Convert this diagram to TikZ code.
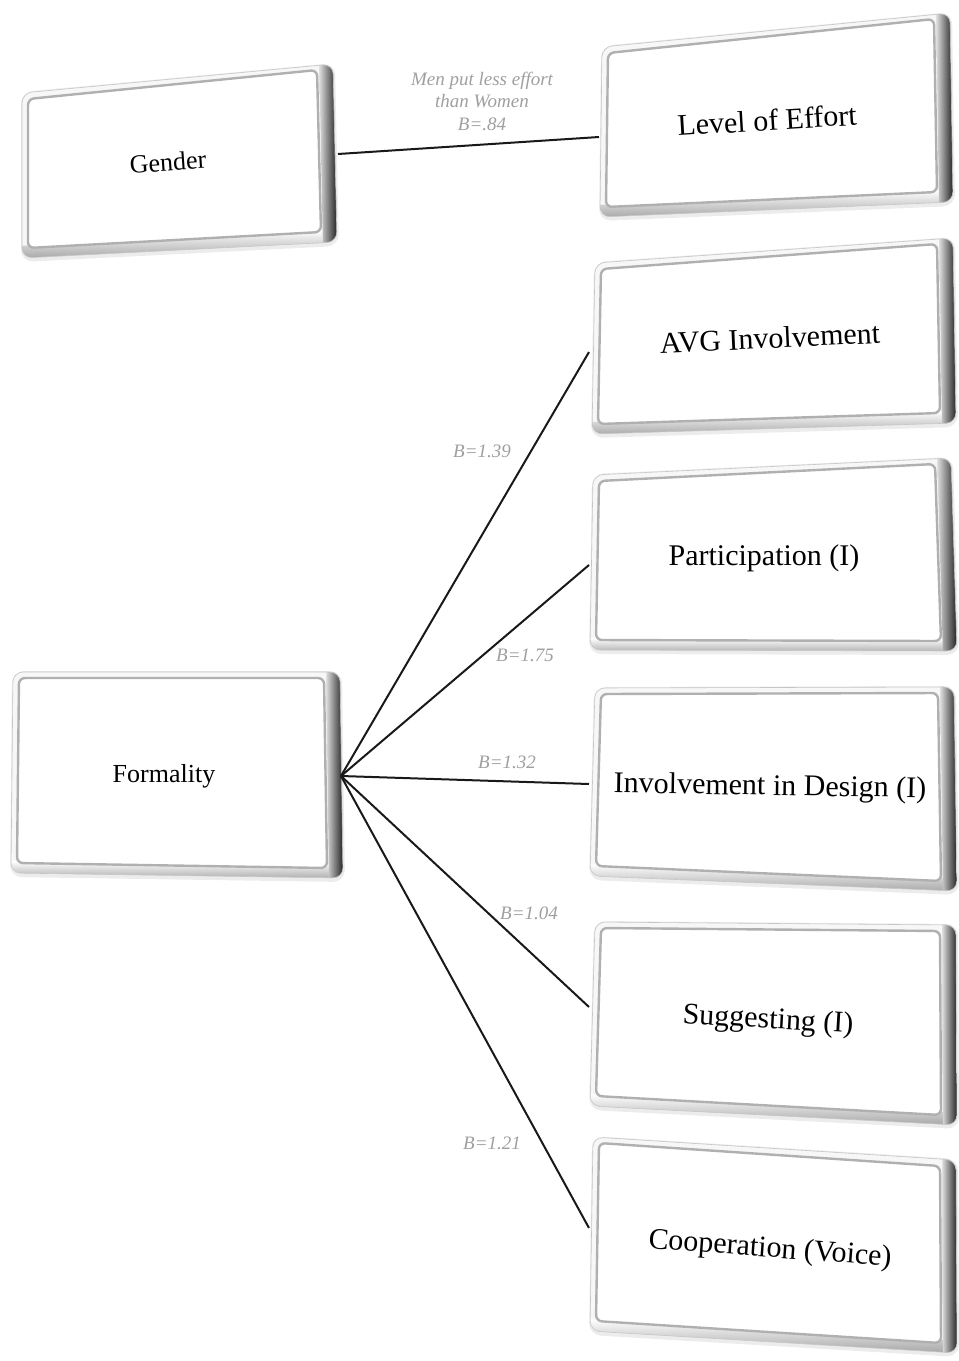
\documentclass[tikz,border=0pt]{standalone}
\usepackage{fontspec}
\setmainfont{Liberation Serif}
\usetikzlibrary{calc}

\tikzset{
  boxtext/.style={font=\fontsize{30}{35}\selectfont, inner sep=0pt},
  lefttext/.style={font=\fontsize{26}{30}\selectfont, inner sep=0pt},
  coef/.style={font=\itshape\fontsize{19}{22.5}\selectfont, text=gray!75, align=center, inner sep=0pt},
  link/.style={line width=2pt, black!90},
}

% Raised bevelled panel spanned by four (slightly skewed) corners:
% #1 name, #2 top left, #3 top right, #4 bottom right, #5 bottom left
\newcommand\bevelbox[5]{%
  \coordinate (#1-tl) at (#2);
  \coordinate (#1-tr) at (#3);
  \coordinate (#1-br) at (#4);
  \coordinate (#1-bl) at (#5);
  % soft drop shadow
  \fill[gray!15, rounded corners=12pt] ($(#1-tl)+(-1,-1)$) -- ($(#1-tr)+(2,-1)$) -- ($(#1-br)+(2,4)$) -- ($(#1-bl)+(-1,4)$) -- cycle;
  \begin{scope}
    \clip[rounded corners=10pt] (#1-tl) -- (#1-tr) -- (#1-br) -- (#1-bl) -- cycle;
    \fill[gray!6] ($(#1-tl)+(-5,-5)$) -- ($(#1-tr)+(5,-5)$) -- ($(#1-br)+(5,5)$) -- ($(#1-bl)+(-5,5)$) -- cycle;
    % lower bevel
    \shade[top color=white, bottom color=gray!80] ($(#1-bl)+(-5,-12)$) -- ($(#1-br)+(5,-12)$) -- ($(#1-br)+(5,5)$) -- ($(#1-bl)+(-5,5)$) -- cycle;
    % right-hand bevel
    \shade[left color=gray!25, right color=black!90] ($(#1-tr)+(-14,-5)$) -- ($(#1-tr)+(1,-5)$) -- ($(#1-br)+(1,5)$) -- ($(#1-br)+(-14,5)$) -- cycle;
  \end{scope}
  \draw[gray!45, line width=.6pt, rounded corners=10pt] (#1-tl) -- (#1-tr) -- (#1-br) -- (#1-bl) -- cycle;
  % face of the panel with its grooved rim
  \filldraw[fill=white, draw=gray!62, line width=2.4pt, rounded corners=6pt] ($(#1-tl)+(6,6)$) -- ($(#1-tr)+(-16,6)$) -- ($(#1-br)+(-16,-10)$) -- ($(#1-bl)+(6,-10)$) -- cycle;
}

\begin{document}
\begin{tikzpicture}[x=1pt, y=-1pt]
\useasboundingbox (0,0) rectangle (959,1361);

% panels
\bevelbox{bgender}{22,93}{333,64}{337,242}{22,258}
\bevelbox{beffort}{602,47}{950,13}{953,202}{600,217}
\bevelbox{bavg}{595,263}{953,238}{956,423}{592,434}
\bevelbox{bpart}{593,475}{951,458}{957,651}{590,650}
\bevelbox{bdesign}{595,688}{954,687}{957,891}{590,876}
\bevelbox{bsugg}{595,922}{956,925}{957,1125}{590,1106}
\bevelbox{bcoop}{593,1137}{956,1160}{957,1353}{590,1331}
\bevelbox{bform}{13,672}{340,672}{343,878}{11,873}

% panel labels
\node[lefttext, rotate=4] (gender) at (168,162) {Gender};
\node[boxtext, rotate=3.5] (effort) at (767,120) {Level of Effort};
\node[boxtext, rotate=2.6] (avg) at (770,338) {AVG Involvement};
\node[boxtext] (part) at (764,558) {Participation (I)};
\node[boxtext, rotate=-1] (design) at (770,788) {Involvement in Design (I)};
\node[boxtext, rotate=-3.3] (sugg) at (768,1021) {Suggesting (I)};
\node[boxtext, rotate=-4.3] (coop) at (770,1250) {Cooperation (Voice)};
\node[lefttext] (form) at (164,776) {Formality};

% attachment points on the panel edges
\coordinate (gender-e) at (338,154);
\coordinate (effort-w) at (599,137);
\coordinate (form-e) at (341,776);
\coordinate (avg-w) at (589,352);
\coordinate (part-w) at (589,565);
\coordinate (design-w) at (589,784);
\coordinate (sugg-w) at (589,1007);
\coordinate (coop-w) at (589,1228);

% connectors
\draw[link] (gender-e) -- (effort-w);
\draw[link] (form-e) -- (avg-w);
\draw[link] (form-e) -- (part-w);
\draw[link] (form-e) -- (design-w);
\draw[link] (form-e) -- (sugg-w);
\draw[link] (form-e) -- (coop-w);

% coefficients
\node[coef] (c-effort) at (482,101) {Men put less effort\\than Women\\B=.84};
\node[coef] (c-avg) at (482,451) {B=1.39};
\node[coef] (c-part) at (525,655) {B=1.75};
\node[coef] (c-design) at (507,762) {B=1.32};
\node[coef] (c-sugg) at (529,913) {B=1.04};
\node[coef] (c-coop) at (492,1143) {B=1.21};
\end{tikzpicture}
\end{document}
